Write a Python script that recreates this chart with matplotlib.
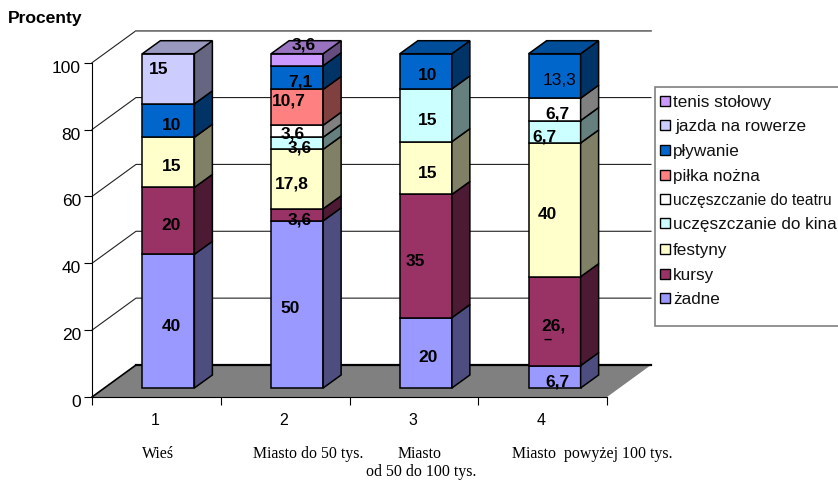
import numpy as np
import matplotlib
matplotlib.use("Agg")
import matplotlib.pyplot as plt
from matplotlib.patches import Polygon, Rectangle
from matplotlib.transforms import Affine2D, ScaledTranslation

plt.rcParams['font.family'] = ['Liberation Sans', 'DejaVu Sans']

# data
series = ["żadne", "kursy", "festyny", "uczęszczanie do kina", "uczęszczanie do teatru",
          "piłka nożna", "pływanie", "jazda na rowerze", "tenis stołowy"]
groups = ["1", "2", "3", "4"]
group_names = ["Wieś", "Miasto do 50 tys.", "Miasto", "Miasto  powyżej 100 tys."]
wies = [40, 20, 15, 0, 0, 0, 10, 15, 0]
miasto_50 = [50, 3.6, 17.8, 3.6, 3.6, 10.7, 7.1, 0, 3.6]
miasto_100 = [20, 35, 15, 15, 0, 0, 10, 0, 0]
miasto_big = [6.7, 26.6, 40, 6.7, 6.7, 0, 13.3, 0, 0]
colors = ["#9999FF", "#993366", "#FFFFCC", "#CCFFFF", "#FFFFFF",
          "#FF8080", "#0066CC", "#CCCCFF", "#CC99FF"]

# printed labels, they sit off centre in the original (dx, dy in pixels)
labels_1 = [("40", 3, 4), ("20", 3, 4), ("15", 3, 3), None, None, None, ("10", 3, 4), ("15", -10, -10), None]
labels_2 = [("50", -7, 3.5), ("3,6", 3, 4), ("17,8", -5, 4), ("3,6", 3, 3.5), ("3,6", -4, 1.5),
            ("10,7", -8, -7.5), ("7,1", 3, 3), None, ("3,6", 7, -16)]
labels_3 = [("20", 2, 4), ("35", -11, 4), ("15", 2, 4), ("15", 2, 4.5), None, None, ("10", 2, 3.5), None, None]
labels_4 = [("6,7", 3, 4), ("26,", -1, 4), ("40", -7, 4), ("6,7", -10, 4), ("6,7", 3, 3.5), None,
            ("13,3", 5, 4), None, None]

W, H = 838, 481
fig = plt.figure(figsize=(W / 100, H / 100), dpi=100)
ax = fig.add_axes([92 / W, (H - 398) / H, 515 / W, 334.3 / H])
ax.set_xlim(0, 4)
ax.set_ylim(0, 100)
px = Affine2D().scale(1, -1).translate(0, H)  # pixel coords, top left origin

# 3d look, offsets in data units
depth_x, depth_y = 44 / 128.75, 32 / 3.343
front_x, front_y = 12 / 128.75, 9 / 3.343
bar_dx, bar_dy = 18 / 128.75, 13 / 3.343
bar_w = 52 / 128.75


def darker(c, f):
    return tuple(v * f for v in matplotlib.colors.to_rgb(c))


# floor and back wall
ax.add_patch(Polygon([(0, 0), (4, 0), (4 + depth_x, depth_y), (depth_x, depth_y)],
                     fc="#808080", ec="none", clip_on=False, zorder=1))
ax.plot([depth_x, 4 + depth_x], [depth_y, depth_y], color="black", lw=1.6, clip_on=False, zorder=1.5)
ax.plot([0, depth_x], [0, depth_y], color="black", lw=1.2, clip_on=False, zorder=1.5)
for v in [20, 40, 60, 80, 100]:
    ax.plot([0, depth_x, 4 + depth_x], [v, v + depth_y, v + depth_y],
            color="#222222", lw=0.8, clip_on=False, zorder=1)
    if v == 100:
        ax.plot([depth_x, 4 + depth_x], [v + depth_y, v + depth_y], color="#808080", lw=1.2,
                clip_on=False, zorder=1.2)

# bars
rows = [wies, miasto_50, miasto_100, miasto_big]
all_labels = [labels_1, labels_2, labels_3, labels_4]
for i, row in enumerate(rows):
    row = np.array(row, dtype=float)
    shares = row / row.sum() * 100  # 100% stacked
    left = i + 0.5 - bar_w / 2 + front_x
    right = left + bar_w
    bottom = front_y
    last = np.nonzero(shares)[0][-1]
    for j, h in enumerate(shares):
        if h == 0:
            continue
        ax.bar(left, h, bar_w, bottom=bottom, align="edge", color=colors[j], edgecolor="black",
               lw=1.1, clip_on=False, zorder=3)
        ax.add_patch(Polygon([(right, bottom), (right + bar_dx, bottom + bar_dy),
                              (right + bar_dx, bottom + h + bar_dy), (right, bottom + h)],
                             fc=darker(colors[j], 0.5), ec="black", lw=1.1, clip_on=False, zorder=3))
        if j == last:
            top = bottom + h
            ax.add_patch(Polygon([(left, top), (right, top), (right + bar_dx, top + bar_dy),
                                  (left + bar_dx, top + bar_dy)],
                                 fc=darker(colors[j], 0.75), ec="black", lw=1.1, clip_on=False, zorder=3))
        lab = all_labels[i][j]
        if lab:
            weight = "normal" if lab[0] == "13,3" else "bold"
            ax.annotate(lab[0], (left + bar_w / 2, bottom + h / 2), xytext=(lab[1], -lab[2]),
                        textcoords="offset pixels", ha="center", va="center", fontsize=12.5,
                        fontweight=weight, color="black", zorder=5, annotation_clip=False)
            if lab[0] == "26,":
                # clipped second line of the label
                ax.annotate("–", (left + bar_w / 2, bottom + h / 2), xytext=(-7, -18),
                            textcoords="offset pixels", ha="center", va="center", fontsize=10.5,
                            fontweight="bold", zorder=5, annotation_clip=False)
        bottom += h

# axes
for s in ["top", "right"]:
    ax.spines[s].set_visible(False)
ax.spines["left"].set_zorder(2)
ax.spines["bottom"].set_zorder(2)
ax.set_yticks([0, 20, 40, 60, 80, 100])
ax.set_xticks([0, 1, 2, 3, 4])
ax.set_xticklabels([])
ax.set_xticks([0.49, 1.49, 2.49, 3.49], labels=groups, minor=True)
ax.tick_params(axis="y", labelsize=12.5, length=6, width=0.8, pad=2)
ax.tick_params(axis="x", which="major", length=6, width=0.8)
ax.tick_params(axis="x", which="minor", length=0, labelsize=11.5, pad=11)
ax.patch.set_alpha(0)
# y labels sit a little under their ticks in the original
shift = ScaledTranslation(0, -3 / 100, fig.dpi_scale_trans)
for t in ax.get_yticklabels():
    t.set_transform(t.get_transform() + shift)

# texts
fig.text(8, 19, "Procenty", transform=px, fontsize=12.6, fontweight="bold", va="center")
serif = ['Liberation Serif', 'DejaVu Serif']
name_x = [158.5, 308, 420, 592.5]
for x, name in zip(name_x, group_names):
    fig.text(x, 454.5, name, transform=px, family=serif, fontsize=11.4, ha="center", va="center")
fig.text(421.5, 472.5, "od 50 do 100 tys.", transform=px, family=serif, fontsize=11.4, ha="center", va="center")

# legend, right edge runs off the picture
fig.add_artist(Rectangle((655, 88), 200, 239, transform=px, fc="white", ec="#808080", lw=1.2, zorder=6))
leg_y = [102, 126, 151, 176, 200, 224, 250, 275, 299]
for y, name, c in zip(leg_y, series[::-1], colors[::-1]):
    fig.add_artist(Rectangle((660, y - 5), 10, 10, transform=px, fc=c, ec="black", lw=1, zorder=7))
    tx = 675 if name == "jazda na rowerze" else 673
    size = 11.2 if name == "uczęszczanie do teatru" else 12.3
    fig.text(tx, y + 1, name, transform=px, fontsize=size, va="center", color="#111111", zorder=7)

fig.savefig("out.png", dpi=100)
